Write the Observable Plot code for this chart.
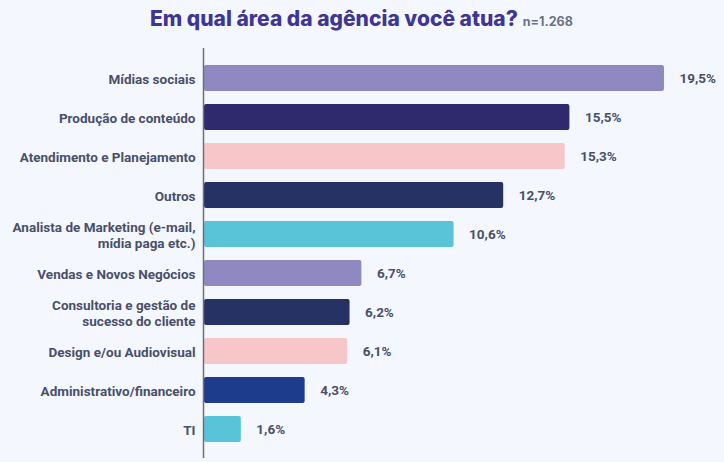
<!DOCTYPE html>
<html>
<head>
<meta charset="utf-8">
<script src="https://cdn.jsdelivr.net/npm/d3@7"></script>
<script src="https://cdn.jsdelivr.net/npm/@observablehq/plot@0.6"></script>
<style>
  html, body { margin: 0; padding: 0; background: #f4f7fe; }
  #wrap { width: 724px; height: 462px; position: relative; overflow: hidden; font-family: Roboto, "Noto Sans", sans-serif; }
  #title { height: 48px; position: relative; }
  #title .t { position: absolute; left: 150px; top: 6px; font-family: Inter, Roboto, sans-serif; font-size: 21px; font-weight: 800; color: #3f3594; white-space: nowrap; }
  #title .n { font-size: 12.5px; font-weight: 700; color: #6b7186; margin-left: 5px; }
</style>
</head>
<body>
<div id="wrap">
  <div id="title"><div class="t">Em qual área da agência você atua?<span class="n">n=1.268</span></div></div>
  <div id="chart"></div>
</div>
<script>
const categories = [
  "Mídias sociais",
  "Produção de conteúdo",
  "Atendimento e Planejamento",
  "Outros",
  "Analista de Marketing (e-mail,\nmídia paga etc.)",
  "Vendas e Novos Negócios",
  "Consultoria e gestão de\nsucesso do cliente",
  "Design e/ou Audiovisual",
  "Administrativo/financeiro",
  "TI"
];
const values = [19.5, 15.5, 15.3, 12.7, 10.6, 6.7, 6.2, 6.1, 4.3, 1.6];
const colors = ["#8f88c1", "#2e2a6d", "#f7c6c9", "#263264", "#59c3d8", "#8f88c1", "#263264", "#f7c6c9", "#1e3c8c", "#59c3d8"];

const data = categories.map((c, i) => ({category: c, value: values[i], color: colors[i]}));
const fmt = v => v.toFixed(1).replace(".", ",") + "%";

const chart = Plot.plot({
  width: 724,
  height: 414,
  marginLeft: 203,
  marginRight: 0,
  marginTop: 0,
  marginBottom: 4,
  style: {background: "transparent", fontFamily: "Roboto, 'Noto Sans', sans-serif"},
  x: {domain: [0, 22.04], axis: null},
  y: {domain: categories, padding: 0.34, label: null},
  marks: [
    Plot.barX(data, {x: "value", y: "category", fill: "color", rx: 2, insetLeft: 1}),
    Plot.ruleX([0], {stroke: "#6b6f7a", strokeWidth: 1.5}),
    Plot.axisY({tickSize: 0, tickPadding: 8, fontSize: 13.5, fontWeight: 700, fill: "#4a5068", lineHeight: 1.2, label: null}),
    Plot.text(data, {x: "value", y: "category", text: d => fmt(d.value), dx: 15, textAnchor: "start", fontSize: 13.5, fontWeight: 700, fill: "#4a5068"})
  ]
});
document.getElementById("chart").appendChild(chart);
</script>
</body>
</html>
